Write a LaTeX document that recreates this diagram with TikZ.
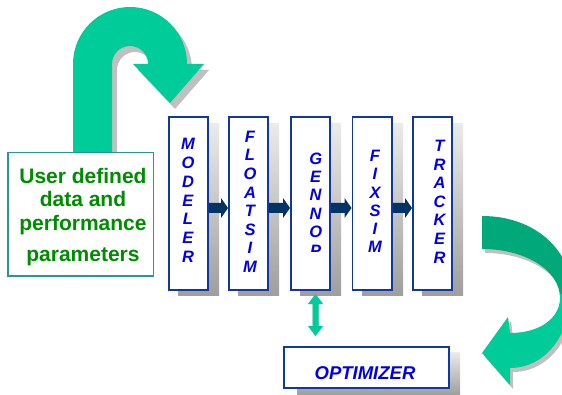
\documentclass[tikz,border=0pt]{standalone}
\usepackage{fontspec}
\setmainfont{Liberation Sans}
\usetikzlibrary{calc}

\definecolor{arrowgreen}{RGB}{0,204,153}
\definecolor{arrowdark}{RGB}{0,168,122}
\definecolor{linknavy}{RGB}{0,51,102}
\definecolor{boxblue}{RGB}{16,56,160}
\definecolor{letterblue}{RGB}{0,0,230}
\definecolor{userteal}{RGB}{40,150,150}
\definecolor{usergreen}{RGB}{0,140,0}
\definecolor{shadowgray}{RGB}{192,192,192}

\tikzset{
  module/.style={draw=boxblue, line width=1.8pt, fill=white,
    minimum width=39.2pt, minimum height=173.2pt, inner sep=0pt},
  modshadow/.style={top color=black!8, bottom color=black!38, draw=none},
  letter/.style={text=letterblue, inner sep=0pt,
    font=\fontsize{16.5}{16.5}\selectfont\bfseries\itshape},
  optlabel/.style={text=letterblue, inner sep=0pt,
    font=\fontsize{18.5}{18.5}\selectfont\bfseries\itshape},
  usertext/.style={text=usergreen, inner sep=0pt, anchor=base,
    font=\fontsize{21}{21}\selectfont\bfseries},
}

% navy block arrow from the right side of #1 to the left side of #2
\newcommand\linkarrow[2]{%
  \fill[linknavy] ($(#1.east)+(0,-0.5)$) -- ($(#2.west)+(-7,-0.5)$)
    -- ($(#2.west)+(-7,-5.5)$) -- ($(#2.west)+(0,4.5)$)
    -- ($(#2.west)+(-7,14.5)$) -- ($(#2.west)+(-7,9.5)$)
    -- ($(#1.east)+(0,9.5)$) -- cycle;}

% outlines of the two large curved arrows
\def\looppath{(73,160) -- (73,64) arc[start angle=180,end angle=360,radius=57]
  -- (204,64) -- (170,103) -- (133,64) -- (148,64)
  arc[start angle=360,end angle=180,radius=18] -- (112,160) -- cycle}
\def\bendpath{(482,216) .. controls (535,216) and (571,250) .. (571,291)
  .. controls (571,335) and (545,368) .. (510,368) -- (510,385) -- (482,353)
  -- (508,317) -- (510,333) .. controls (540,333) and (560,318) .. (560,298)
  .. controls (560,270) and (525,249) .. (482,249) -- cycle}

\begin{document}
\begin{tikzpicture}[x=1pt,y=1pt,yscale=-1]
\useasboundingbox (0,0) rectangle (562,395);

% feedback loop arrow above the input box
\fill[shadowgray, shift={(5,6)}] \looppath;
\fill[arrowgreen] \looppath;

% input box
\node[draw=userteal, line width=1.5pt, fill=white, minimum width=145.5pt,
  minimum height=123.5pt, inner sep=0pt] (usr) at (80.5,214.5) {};
\node[usertext] (usr-1) at (83,183.3) {User defined};
\node[usertext] (usr-2) at (83,206.7) {data and};
\node[usertext] (usr-3) at (83,230.7) {performance};
\node[usertext] (usr-4) at (83,261.7) {parameters};

% shadows of the module columns
\foreach \x in {168,228,290,352,412}
  \shade[modshadow] (\x+10,124) rectangle (\x+51,296);

% module columns
\node[module] (mod) at (188.5,203.5) {};
\node[module] (flo) at (248.5,203.5) {};
\node[module] (gen) at (310.5,203.5) {};
\node[module] (fix) at (372,203.5) {};
\node[module] (trk) at (432.5,203.5) {};

% vertical module names
\foreach \ch [count=\i] in {M,O,D,E,L,E,R}
  \node[letter] (mod-\i) at (188,{144.2+18.75*(\i-1)}) {\ch};
\begin{scope}
  \clip (228,116) rectangle (269,271.7);
  \foreach \ch [count=\i] in {F,L,O,A,T,S,I,M}
    \node[letter] (flo-\i) at (250,{136.7+18.57*(\i-1)}) {\ch};
\end{scope}
\begin{scope}
  \clip (290,116) rectangle (331,251.7);
  \foreach \ch [count=\i] in {G,E,N,N,O,P}
    \node[letter] (gen-\i) at (315.7,{158.5+18.4*(\i-1)}) {\ch};
\end{scope}
\begin{scope}
  \clip (352,116) rectangle (392,254);
  \foreach \ch [count=\i] in {F,I,X,S,I,M}
    \node[letter] (fix-\i) at (375,{155.8+18.3*(\i-1)}) {\ch};
\end{scope}
\foreach \ch [count=\i] in {T,R,A,C,K,E,R}
  \node[letter] (trk-\i) at (439.5,{145.8+18.6*(\i-1)}) {\ch};

% links between modules
\linkarrow{mod}{flo}
\linkarrow{flo}{gen}
\linkarrow{gen}{fix}
\linkarrow{fix}{trk}

% curved arrow from the tracker down to the optimizer
\fill[shadowgray, shift={(3,4)}] \bendpath;
\begin{scope}
  \clip (470,200) rectangle (580,295);
  \fill[arrowdark] \bendpath;
\end{scope}
\begin{scope}
  \clip (470,295) rectangle (580,400);
  \fill[arrowgreen] \bendpath;
\end{scope}

% optimizer box
\shade[modshadow] (297,352) rectangle (460,395);
\node[draw=boxblue, line width=1.8pt, fill=white, minimum width=165.2pt,
  minimum height=41.2pt, inner sep=0pt] (opt) at (366.5,367.5) {};
\node[optlabel] (opt-t) at ($(opt.center)+(-1.5,5.5)$) {OPTIMIZER};

% two-way arrow between GENNOP and the optimizer
\coordinate (dtop) at ($(gen.south)+(5,3)$);
\coordinate (dbot) at ($(dtop)+(0,42)$);
\foreach \dx/\dy/\col in {4/3/shadowgray,0/0/arrowgreen}
  \fill[\col, shift={(\dx,\dy)}] (dtop) -- ++(7.5,10) -- ++(-4.5,0)
    -- ++(0,22) -- ++(4.5,0) -- (dbot) -- ++(-7.5,-10) -- ++(4.5,0)
    -- ++(0,-22) -- ++(-4.5,0) -- cycle;
\end{tikzpicture}
\end{document}
